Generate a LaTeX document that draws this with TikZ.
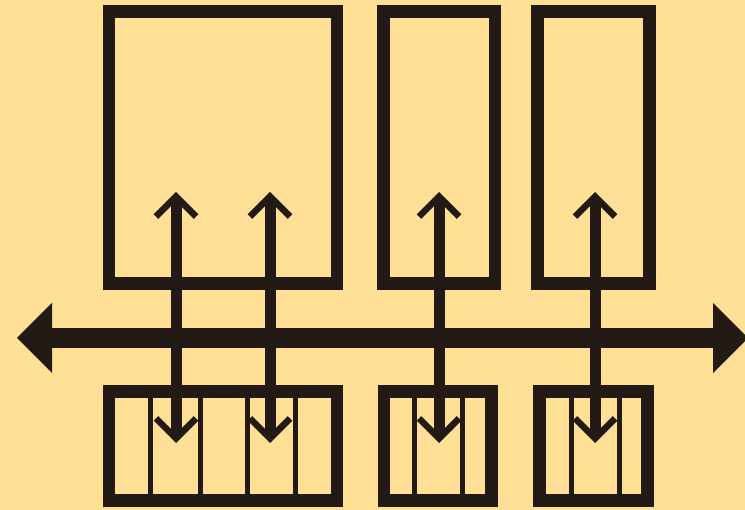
\documentclass[tikz,border=0pt]{standalone}
\usetikzlibrary{arrows.meta}
\definecolor{PanelBg}{HTML}{FFE096}
\definecolor{Ink}{HTML}{231A15}

\begin{document}
\begin{tikzpicture}[
    x=1pt, y=-1pt,
    unit/.style={draw=Ink, line width=12.5pt, outer sep=0pt, inner sep=0pt,
        minimum height=272pt},
    slot/.style={unit, minimum height=109pt},
    divider/.style={draw=Ink, line width=5pt},
    bus/.style={draw=Ink, line width=20pt,
        arrows={Triangle[length=35pt,width=70pt,line width=0pt]-Triangle[length=35pt,width=70pt,line width=0pt]}},
    link/.style={draw=Ink, line width=11pt,
        arrows={Straight Barb[length=20pt,width=40pt,line width=6.5pt]-Straight Barb[length=20pt,width=40pt,line width=6.5pt]}}
  ]
  \useasboundingbox (0,0) rectangle (745,510);
  \fill[PanelBg] (0,0) rectangle (745,510);

  % slots below the bus
  \node[slot, minimum width=228pt] (slot1) at (223,446) {};
  \node[slot, minimum width=107.5pt] (slot2) at (437.75,446) {};
  \node[slot, minimum width=108pt] (slot3) at (593.5,446) {};

  \draw[divider] ([xshift=41.5pt]slot1.north west) -- ([xshift=41.5pt]slot1.south west);
  \draw[divider] ([xshift=91pt]slot1.north west) -- ([xshift=91pt]slot1.south west);
  \draw[divider] ([xshift=138pt]slot1.north west) -- ([xshift=138pt]slot1.south west);
  \draw[divider] ([xshift=186pt]slot1.north west) -- ([xshift=186pt]slot1.south west);
  \draw[divider] ([xshift=30.5pt]slot2.north west) -- ([xshift=30.5pt]slot2.south west);
  \draw[divider] ([xshift=78.5pt]slot2.north west) -- ([xshift=78.5pt]slot2.south west);
  \draw[divider] ([xshift=32pt]slot3.north west) -- ([xshift=32pt]slot3.south west);
  \draw[divider] ([xshift=80pt]slot3.north west) -- ([xshift=80pt]slot3.south west);

  % modules above the bus
  \node[unit, minimum width=228pt] (mod1) at (223,147.5) {};
  \node[unit, minimum width=111.5pt] (mod2) at (439.25,147.5) {};
  \node[unit, minimum width=112pt] (mod3) at (593.5,147.5) {};

  \coordinate (busL) at (17,338);
  \coordinate (busR) at (748,338);
  \draw[bus] (busL) -- (busR);

  \coordinate (u1) at (176,192);
  \coordinate (d1) at (176,443);
  \coordinate (u2) at (270,192);
  \coordinate (d2) at (270,443);
  \coordinate (u3) at (439,192);
  \coordinate (d3) at (439,443);
  \coordinate (u4) at (595,192);
  \coordinate (d4) at (595,443);

  \draw[link] (u1) -- (d1);
  \draw[link] (u2) -- (d2);
  \draw[link] (u3) -- (d3);
  \draw[link] (u4) -- (d4);
\end{tikzpicture}
\end{document}
